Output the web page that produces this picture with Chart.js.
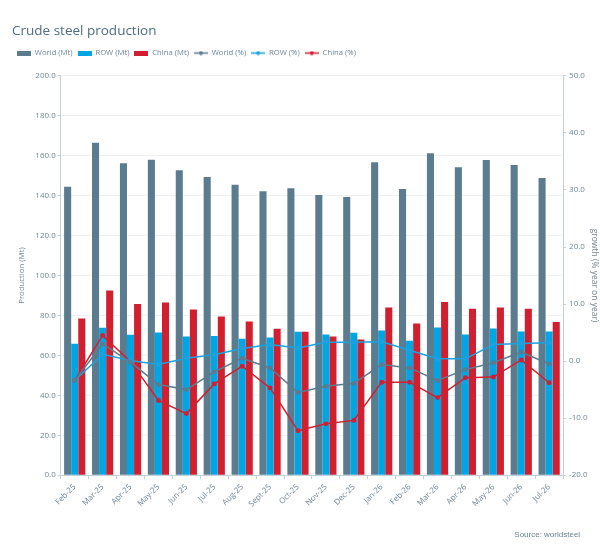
<!DOCTYPE html>
<html>
<head>
<meta charset="utf-8">
<script src="https://cdn.jsdelivr.net/npm/chart.js@4"></script>
<style>
  body { margin: 0; background: #fff; }
  #wrap { width: 600px; height: 554px; }
</style>
</head>
<body>
<div id="wrap"><canvas id="steelChart"></canvas></div>
<script>
// Chart data
const months = ["Feb-25", "Mar-25", "Apr-25", "May-25", "Jun-25", "Jul-25", "Aug-25", "Sept-25", "Oct-25",
    "Nov-25", "Dec-25", "Jan-26", "Feb-26", "Mar-26", "Apr-26", "May-26", "Jun-26", "Jul-26"];

const worldMt = [144.5, 166.5, 156.2, 158, 152.7, 149.4, 145.5, 142.2, 143.7, 140.4, 139.4, 156.7, 143.4, 161.2, 154.2, 157.9, 155.4, 148.9];
const rowMt   = [65.8, 73.8, 70.3, 71.5, 69.5, 69.7, 68.3, 69, 71.8, 70.5, 71.3, 72.5, 67.3, 74, 70.5, 73.5, 72, 72];
const chinaMt = [78.5, 92.5, 85.8, 86.5, 83, 79.5, 77, 73.3, 71.8, 69.5, 68, 84, 76, 86.8, 83.3, 84, 83.3, 76.7];

const worldPct = [-3.4, 3.0, -0.2, -4.1, -5.0, -1.9, 0.5, -1.2, -5.5, -4.4, -3.9, -0.6, -1.2, -3.4, -1.5, -0.3, 1.6, -0.5];
const rowPct   = [-3.4, 1.2, 0.1, -0.6, 0.5, 1.1, 2.2, 2.9, 2.3, 3.3, 3.3, 3.4, 1.9, 0.4, 0.4, 2.9, 3.1, 3.2];
const chinaPct = [-3.4, 4.5, -0.1, -6.9, -9.2, -4.0, -0.9, -4.7, -12.2, -11.0, -10.4, -3.7, -3.7, -6.4, -2.9, -2.8, 0.2, -3.8];

const sourceText = "Source: worldsteel";

// Colours
const slate = "#5b7b8f";
const cyan = "#00a6e4";
const red = "#d21f2f";
const textCol = "#6f8797";
const axisCol = "#c5d1d9";
const fontFam = "'Open Sans', sans-serif";

// Legend swatches
function barSwatch(color) {
    const c = document.createElement("canvas");
    c.width = 14; c.height = 5;
    const g = c.getContext("2d");
    g.fillStyle = color;
    g.fillRect(0, 0, 14, 5);
    return c;
}
function lineSwatch(color) {
    const c = document.createElement("canvas");
    c.width = 14; c.height = 5;
    const g = c.getContext("2d");
    g.strokeStyle = color; g.fillStyle = color; g.lineWidth = 1.5;
    g.beginPath(); g.moveTo(0, 2.5); g.lineTo(14, 2.5); g.stroke();
    g.beginPath(); g.arc(7, 2.5, 2, 0, Math.PI * 2); g.fill();
    return c;
}

function lineSet(label, data, color) {
    return {
        type: "line", label, data, yAxisID: "y1",
        borderColor: color, backgroundColor: color,
        borderWidth: 1.5, pointRadius: 1.7, pointHoverRadius: 3,
        tension: 0, fill: false, order: 0,
        swatch: lineSwatch(color)
    };
}
function barSet(label, data, color) {
    return {
        type: "bar", label, data, yAxisID: "y",
        backgroundColor: color, borderWidth: 0,
        barPercentage: 1, categoryPercentage: 0.76, order: 1,
        swatch: barSwatch(color)
    };
}

// Extra room under the legend
const legendGap = {
    id: "legendGap",
    beforeInit(chart) {
        const fit = chart.legend.fit;
        chart.legend.fit = function () {
            fit.call(this);
            this.height += 9;
        };
    }
};

// Source note under the chart
const sourcePlugin = {
    id: "sourceNote",
    afterDraw(chart) {
        const g = chart.ctx;
        g.save();
        g.font = "8px 'Liberation Sans', Arial, sans-serif";
        g.fillStyle = "#6a8294";
        g.textAlign = "right";
        g.textBaseline = "middle";
        g.fillText(sourceText, chart.chartArea.right + 17, chart.height - 19);
        g.restore();
    }
};

const ctx = document.getElementById("steelChart").getContext("2d");
new Chart(ctx, {
    data: {
        labels: months,
        datasets: [
            barSet("World (Mt)", worldMt, slate),
            barSet("ROW (Mt)", rowMt, cyan),
            barSet("China (Mt)", chinaMt, red),
            lineSet("World (%)", worldPct, slate),
            lineSet("ROW (%)", rowPct, "#1aa3e0"),
            lineSet("China (%)", chinaPct, red)
        ]
    },
    plugins: [legendGap, sourcePlugin],
    options: {
        responsive: true,
        maintainAspectRatio: false,
        animation: false,
        layout: { padding: { left: 12, right: 0, top: 23, bottom: 42 } },
        plugins: {
            title: {
                display: true, text: "Crude steel production", align: "start",
                color: "#4f6d82", font: { family: fontFam, size: 13.5, weight: "normal" },
                padding: { top: 0, bottom: 5 }
            },
            legend: {
                align: "start",
                labels: {
                    usePointStyle: true,
                    pointStyleWidth: 14,
                    color: textCol,
                    font: { family: fontFam, size: 7.7 },
                    padding: 5,
                    generateLabels: chart => chart.data.datasets.map((ds, i) => ({
                        text: ds.label, fontColor: textCol, datasetIndex: i,
                        pointStyle: ds.swatch, hidden: !chart.isDatasetVisible(i),
                        lineWidth: 0
                    }))
                }
            },
            tooltip: { mode: "index", intersect: false }
        },
        scales: {
            x: {
                grid: { display: true, drawOnChartArea: false, tickColor: axisCol, tickLength: 4 },
                border: { color: axisCol },
                ticks: {
                    color: textCol, font: { family: fontFam, size: 8 },
                    maxRotation: 45, minRotation: 45, autoSkip: false
                }
            },
            y: {
                position: "left", min: 0, max: 200,
                ticks: { stepSize: 20, color: textCol, font: { family: fontFam, size: 8 }, padding: 2, callback: v => v.toFixed(1) },
                grid: { color: "#f0f0f0", tickColor: axisCol, tickLength: 3 },
                border: { color: axisCol },
                title: { display: true, text: "Production (Mt)", color: textCol, font: { family: fontFam, size: 7.8 }, padding: { top: 5, bottom: 7 } }
            },
            y1: {
                position: "right", min: -20, max: 50,
                ticks: { stepSize: 10, color: textCol, font: { family: fontFam, size: 8 }, padding: 3, callback: v => v.toFixed(1) },
                grid: { drawOnChartArea: false, tickColor: axisCol, tickLength: 3 },
                border: { color: axisCol },
                title: { display: true, text: "growth (% year on year)", color: textCol, font: { family: fontFam, size: 8.5, lineHeight: 1 }, padding: { top: 1, bottom: 0 } }
            }
        }
    }
});
</script>
</body>
</html>
